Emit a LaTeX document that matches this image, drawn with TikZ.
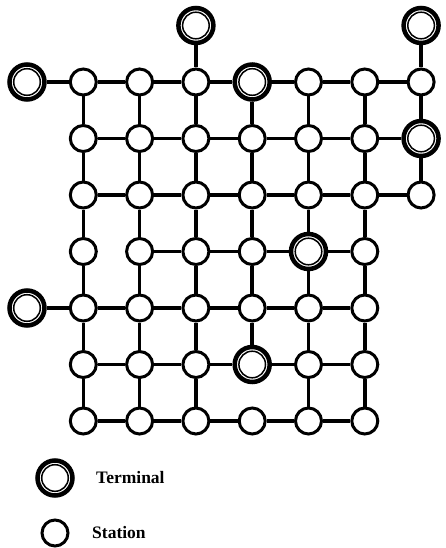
\documentclass[tikz,border=0pt]{standalone}
\usepackage{fontspec}
\setmainfont{Liberation Serif}
\tikzset{
  station/.style={circle, draw, line width=3pt, fill=white, minimum size=26pt, inner sep=0pt},
  terminal/.style={circle, draw, line width=4.5pt, fill=white, minimum size=35pt, inner sep=0pt,
    path picture={\draw[line width=1.5pt] (path picture bounding box.center) circle (13.3pt);}},
  link/.style={line width=3.5pt},
  legendtext/.style={font=\bfseries\fontsize{17.5}{20}\selectfont, anchor=west, inner sep=0pt}
}
\begin{document}
\begin{tikzpicture}[x=1pt,y=-1pt]
  \useasboundingbox (0,0) rectangle (445,548);
  % stations
  \foreach \c in {1,2,3,5,6,7} \node[station] (n-1-\c) at ({27+56.3*\c},{25.5+56.5*1}) {};
  \foreach \c in {1,...,6} \node[station] (n-2-\c) at ({27+56.3*\c},{25.5+56.5*2}) {};
  \foreach \c in {1,...,7} \node[station] (n-3-\c) at ({27+56.3*\c},{25.5+56.5*3}) {};
  \foreach \c in {1,2,3,4,6} \node[station] (n-4-\c) at ({27+56.3*\c},{25.5+56.5*4}) {};
  \foreach \c in {1,...,6} \node[station] (n-5-\c) at ({27+56.3*\c},{25.5+56.5*5}) {};
  \foreach \c in {1,2,3,5,6} \node[station] (n-6-\c) at ({27+56.3*\c},{25.5+56.5*6}) {};
  \foreach \c in {1,...,6} \node[station] (n-7-\c) at ({27+56.3*\c},{25.5+56.5*7}) {};
  % terminals
  \foreach \r/\c in {0/3,0/7,1/0,1/4,2/7,4/5,5/0,6/4}
    \node[terminal] (n-\r-\c) at ({27+56.3*\c},{25.5+56.5*\r}) {};
  % horizontal links
  \foreach \c [count=\d from 1] in {0,...,6} \draw[link] (n-1-\c) -- (n-1-\d);
  \foreach \c [count=\d from 2] in {1,...,6} \draw[link] (n-2-\c) -- (n-2-\d);
  \foreach \c [count=\d from 2] in {1,...,6} \draw[link] (n-3-\c) -- (n-3-\d);
  \foreach \c [count=\d from 3] in {2,...,5} \draw[link] (n-4-\c) -- (n-4-\d);
  \foreach \c [count=\d from 1] in {0,...,5} \draw[link] (n-5-\c) -- (n-5-\d);
  \foreach \c [count=\d from 2] in {1,...,5} \draw[link] (n-6-\c) -- (n-6-\d);
  \foreach \c [count=\d from 2] in {1,...,5} \draw[link] (n-7-\c) -- (n-7-\d);
  % vertical links
  \draw[link] (n-0-3) -- (n-1-3);
  \draw[link] (n-0-7) -- (n-1-7);
  \foreach \c in {1,...,7} \draw[link] (n-1-\c) -- (n-2-\c);
  \foreach \c in {1,...,7} \draw[link] (n-2-\c) -- (n-3-\c);
  \foreach \c in {1,...,6} \draw[link] (n-3-\c) -- (n-4-\c);
  \foreach \c in {1,...,6} \draw[link] (n-4-\c) -- (n-5-\c);
  \foreach \c in {1,...,6} \draw[link] (n-5-\c) -- (n-6-\c);
  \foreach \c in {1,2,3,5,6} \draw[link] (n-6-\c) -- (n-7-\c);
  % legend
  \node[terminal] (keyterm) at (55,478) {};
  \node[legendtext] (keytermtext) at (96,478) {Terminal};
  \node[station] (keystat) at (55,533) {};
  \node[legendtext] (keystattext) at (92,533) {Station};
\end{tikzpicture}
\end{document}
